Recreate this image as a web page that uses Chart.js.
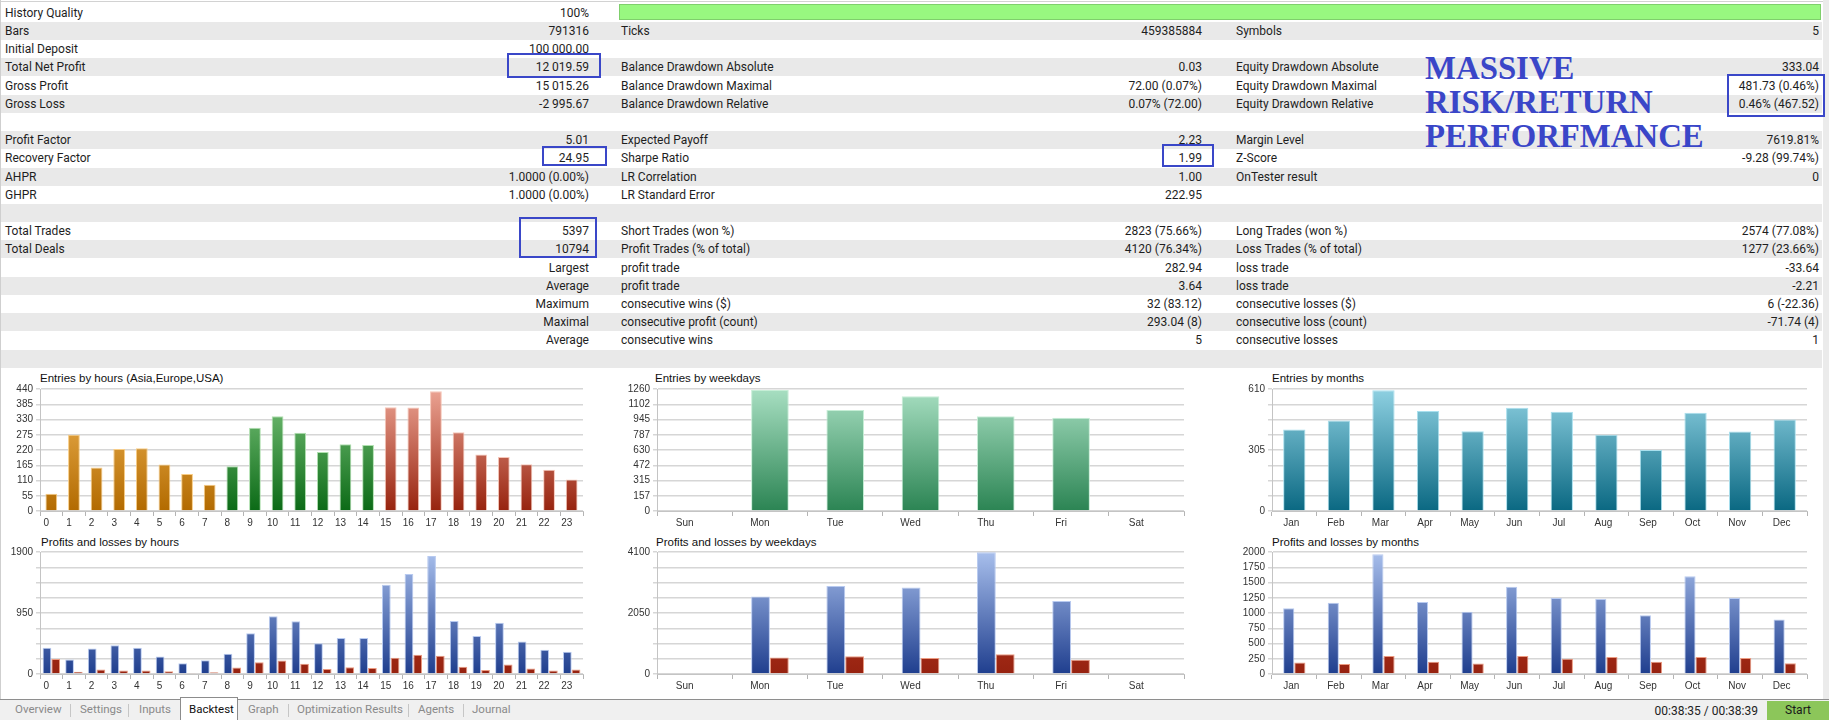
<!DOCTYPE html>
<html>
<head>
<meta charset="utf-8">
<script src="https://cdn.jsdelivr.net/npm/chart.js@4.4.1/dist/chart.umd.min.js"></script>
<style>
body{margin:0;width:1829px;height:720px;overflow:hidden;background:#fff;position:relative;font-family:Roboto,"Liberation Sans",sans-serif;}
.abs{position:absolute}
.row{position:absolute;left:1px;width:1821px;height:18.2px}
.row.gray{background:#e9e9e9}
.t{position:absolute;font-size:12px;color:#1e1e1e;line-height:18.2px;white-space:nowrap}
.r{text-align:right;width:300px}
.box{position:absolute;border:2px solid #3a47c8;box-sizing:border-box}
.title{position:absolute;font:11.5px "Liberation Sans",Arial,sans-serif;color:#111;line-height:14px;white-space:nowrap}
.tab{position:absolute;top:701px;font-size:11.5px;color:#8a8a8a;line-height:16px;white-space:nowrap}
.sep{position:absolute;top:704px;width:1px;height:13px;background:#c6c6c6}
canvas{position:absolute}
</style>
</head>
<body>
<script>
// ---- report table ----
const col1 = [
  ['History Quality', '100%'], ['Bars', '791316'], ['Initial Deposit', '100 000.00'],
  ['Total Net Profit', '12 019.59'], ['Gross Profit', '15 015.26'], ['Gross Loss', '-2 995.67'],
  ['', ''], ['Profit Factor', '5.01'], ['Recovery Factor', '24.95'],
  ['AHPR', '1.0000 (0.00%)'], ['GHPR', '1.0000 (0.00%)'], ['', ''],
  ['Total Trades', '5397'], ['Total Deals', '10794'], ['', 'Largest'],
  ['', 'Average'], ['', 'Maximum'], ['', 'Maximal'], ['', 'Average']
];
const col2 = [
  ['', ''], ['Ticks', '459385884'], ['', ''],
  ['Balance Drawdown Absolute', '0.03'], ['Balance Drawdown Maximal', '72.00 (0.07%)'], ['Balance Drawdown Relative', '0.07% (72.00)'],
  ['', ''], ['Expected Payoff', '2.23'], ['Sharpe Ratio', '1.99'],
  ['LR Correlation', '1.00'], ['LR Standard Error', '222.95'], ['', ''],
  ['Short Trades (won %)', '2823 (75.66%)'], ['Profit Trades (% of total)', '4120 (76.34%)'], ['profit trade', '282.94'],
  ['profit trade', '3.64'], ['consecutive wins ($)', '32 (83.12)'], ['consecutive profit (count)', '293.04 (8)'], ['consecutive wins', '5']
];
const col3 = [
  ['', ''], ['Symbols', '5'], ['', ''],
  ['Equity Drawdown Absolute', '333.04'], ['Equity Drawdown Maximal', '481.73 (0.46%)'], ['Equity Drawdown Relative', '0.46% (467.52)'],
  ['', ''], ['Margin Level', '7619.81%'], ['Z-Score', '-9.28 (99.74%)'],
  ['OnTester result', '0'], ['', ''], ['', ''],
  ['Long Trades (won %)', '2574 (77.08%)'], ['Loss Trades (% of total)', '1277 (23.66%)'], ['loss trade', '-33.64'],
  ['loss trade', '-2.21'], ['consecutive losses ($)', '6 (-22.36)'], ['consecutive loss (count)', '-71.74 (4)'], ['consecutive losses', '1']
];

// ---- chart data ----
const hourLabels = ['0','1','2','3','4','5','6','7','8','9','10','11','12','13','14','15','16','17','18','19','20','21','22','23'];
const hourSessions = ['asia','asia','asia','asia','asia','asia','asia','asia',
  'europe','europe','europe','europe','europe','europe','europe',
  'usa','usa','usa','usa','usa','usa','usa','usa','usa'];
const hourEntries = [62,275,157,224,226,168,133,95,161,300,342,282,213,241,238,374,373,432,284,204,195,169,149,114];
const hourProfits = [409,225,398,449,409,271,169,215,317,633,899,822,480,562,562,1389,1558,1839,827,592,797,506,378,347];
const hourLosses = [235,36,72,56,56,41,15,26,102,184,209,158,77,107,92,255,301,286,112,61,148,87,56,72];

const weekdayLabels = ['Sun','Mon','Tue','Wed','Thu','Fri','Sat'];
const weekdayEntries = [null,1250,1044,1184,979,962,null];
const weekdayProfits = [null,2608,2961,2906,4090,2453,null];
const weekdayLosses = [null,552,597,541,663,475,null];

const monthLabels = ['Jan','Feb','Mar','Apr','May','Jun','Jul','Aug','Sep','Oct','Nov','Dec'];
const monthEntries = [407,453,604,500,399,516,496,381,305,491,397,458];
const monthProfits = [1078,1170,1962,1181,1019,1429,1245,1229,965,1601,1245,895];
const monthLosses = [189,162,296,199,172,296,248,280,199,280,264,178];

const hourEntryTicks = ['0','55','110','165','220','275','330','385','440'];
const weekdayEntryTicks = ['0','157','315','472','630','787','945','1102','1260'];
const monthEntryTicks = ['0','','','','305','','','','610'];
const hourPLTicks = ['0','','','','950','','','','1900'];
const weekdayPLTicks = ['0','','','','2050','','','','4100'];
const monthPLTicks = ['0','250','500','750','1000','1250','1500','1750','2000'];

// ---- page chrome ----
function el(cls, css, text) {
  const d = document.createElement('div');
  d.className = cls;
  Object.assign(d.style, css);
  if (text !== undefined) d.textContent = text;
  document.body.appendChild(d);
  return d;
}

el('abs', {left:'0px', top:'1px', width:'1823px', height:'1px', background:'#d2d2d2'});
el('abs', {left:'0px', top:'0px', width:'1px', height:'699px', background:'#cfcfcf'});
el('abs', {left:'1823px', top:'0px', width:'6px', height:'699px', background:'#ebebeb'});

const ROW0 = 3.7, RH = 18.2;
for (let i = 0; i < 20; i++) {
  el(i % 2 ? 'row gray' : 'row', {top: (ROW0 + RH * i) + 'px'});
}
el('abs', {left:'619px', top:'4px', width:'1202px', height:'16px', background:'#98f880', border:'1px solid #7fcf6c', boxSizing:'border-box'});

function fillColumn(rows, labelX, valueRight) {
  rows.forEach((r, i) => {
    const top = (ROW0 + RH * i) + 'px';
    if (r[0]) el('t', {left: labelX + 'px', top}, r[0]);
    if (r[1]) el('t r', {left: (valueRight - 300) + 'px', top}, r[1]);
  });
}
fillColumn(col1, 5, 589);
fillColumn(col2, 621, 1202);
fillColumn(col3, 1236, 1819);

[[507,52.7,601,77.7],[542,145.7,607,165.7],[519,216.7,597,258.3],[1162,144.3,1214,167.3],[1727,74,1825,117.3]]
  .forEach(b => el('box', {left:b[0]+'px', top:b[1]+'px', width:(b[2]-b[0])+'px', height:(b[3]-b[1])+'px'}));

const promo = el('abs', {left:'1425px', top:'51px', font:'bold 32.8px "Liberation Serif","DejaVu Serif",serif',
  color:'#3a46c8', lineHeight:'34px', whiteSpace:'nowrap'});
promo.innerHTML = 'MASSIVE<br>RISK/RETURN<br>PERFORFMANCE';

// chart titles
el('title', {left:'40px', top:'371px'}, 'Entries by hours (Asia,Europe,USA)');
el('title', {left:'655px', top:'371px'}, 'Entries by weekdays');
el('title', {left:'1272px', top:'371px'}, 'Entries by months');
el('title', {left:'41px', top:'535px'}, 'Profits and losses by hours');
el('title', {left:'656px', top:'535px'}, 'Profits and losses by weekdays');
el('title', {left:'1272px', top:'535px'}, 'Profits and losses by months');

// tab bar
el('abs', {left:'0px', top:'699px', width:'1829px', height:'21px', background:'#f0f0f0'});
el('abs', {left:'0px', top:'699px', width:'1829px', height:'1px', background:'#8e8e8e'});
el('abs', {left:'180px', top:'697px', width:'58px', height:'23px', background:'#fff', border:'1px solid #8c8c8c', borderBottom:'none', boxSizing:'border-box'});
[['Overview',15],['Settings',80],['Inputs',139],['Graph',248],['Optimization Results',297],['Agents',418],['Journal',472]]
  .forEach(t => el('tab', {left: t[1] + 'px'}, t[0]));
el('tab', {left:'189px', color:'#111'}, 'Backtest');
[70,128,288,408,463].forEach(x => el('sep', {left: x + 'px'}));
el('abs', {left:'1458px', top:'703px', width:'300px', textAlign:'right', fontSize:'12px', color:'#222', lineHeight:'16px'}, '00:38:35 / 00:38:39');
el('abs', {left:'1767px', top:'701px', width:'62px', height:'19px', background:'#8cc65a', textAlign:'center', fontSize:'12px', color:'#1a1a1a', lineHeight:'19px'}, 'Start');

// ---- charts ----
const YW = 44, PT = 8, PR = 6, XH = 24;

function vGrad(chart, top, bottom) {
  const a = chart.chartArea;
  if (!a) return bottom;
  const g = chart.ctx.createLinearGradient(0, a.top, 0, a.bottom);
  g.addColorStop(0, top);
  g.addColorStop(1, bottom);
  return g;
}

const sessionColors = {
  asia:   {top:'#f2b757', bottom:'#b26a00', border:'#f8cc84'},
  europe: {top:'#7cc47c', bottom:'#0b6a16', border:'#b0e0b0'},
  usa:    {top:'#eca494', bottom:'#97230e', border:'#f6c6b8'}
};

const profitSet = data => ({
  data, borderWidth:1, borderColor:'#b8caf0',
  backgroundColor: c => vGrad(c.chart, '#a8bfec', '#1f3e8e')
});
const lossSet = data => ({
  data, borderWidth:1, borderColor:'#ec9a80',
  backgroundColor: c => vGrad(c.chart, '#c9472a', '#962210')
});

function makeChart(box, labels, datasets, yMax, yTicks, labelOffset) {
  const canvas = document.createElement('canvas');
  const w = box.r - box.l + YW + PR, h = box.b - box.t + PT + XH;
  canvas.width = w;
  canvas.height = h;
  canvas.style.left = (box.l - YW) + 'px';
  canvas.style.top = (box.t - PT) + 'px';
  document.body.appendChild(canvas);
  const tickFont = {family:'"Liberation Sans", Arial, sans-serif', size:10};
  return new Chart(canvas, {
    type: 'bar',
    data: {labels, datasets},
    options: {
      responsive: false,
      animation: false,
      layout: {padding: {top: PT, right: PR, left: 0, bottom: 0}},
      plugins: {legend: {display: false}, tooltip: {enabled: false}},
      scales: {
        x: {
          grid: {drawOnChartArea: false, color: '#b4b4b4', tickLength: 5, offset: true},
          border: {color: '#c4c4c4'},
          ticks: {font: tickFont, color: '#333', padding: 1, labelOffset, maxRotation: 0, autoSkip: false},
          afterFit(s) { s.height = XH; }
        },
        y: {
          min: 0, max: yMax,
          grid: {color: '#d6d6d6', lineWidth: 1.5, tickLength: 4},
          border: {color: '#c4c4c4'},
          ticks: {font: tickFont, color: '#333', padding: 3, callback: (v, i) => yTicks[i]},
          afterBuildTicks(s) { s.ticks = yTicks.map((_, i) => ({value: yMax * i / 8})); },
          afterFit(s) { s.width = YW; }
        }
      }
    }
  });
}

makeChart({l:40, t:387.7, r:583, b:511}, hourLabels, [{
  data: hourEntries, barPercentage: 0.52, categoryPercentage: 1, borderWidth: 1,
  borderColor: c => sessionColors[hourSessions[c.dataIndex]].border,
  backgroundColor: c => {
    const s = sessionColors[hourSessions[c.dataIndex]];
    return vGrad(c.chart, s.top, s.bottom);
  }
}], 440, hourEntryTicks, -5);

makeChart({l:656.5, t:387.7, r:1184, b:511}, weekdayLabels, [{
  data: weekdayEntries, barPercentage: 0.5, categoryPercentage: 1, borderWidth: 1,
  borderColor: '#c6eed6',
  backgroundColor: c => vGrad(c.chart, '#a8dfc2', '#2b8453')
}], 1260, weekdayEntryTicks, -10);

makeChart({l:1271.7, t:387.7, r:1807, b:511}, monthLabels, [{
  data: monthEntries, barPercentage: 0.5, categoryPercentage: 1, borderWidth: 1,
  borderColor: '#a9e0ee',
  backgroundColor: c => vGrad(c.chart, '#8fd1e2', '#0a6882')
}], 610, monthEntryTicks, -3);

makeChart({l:40, t:551.3, r:583, b:675}, hourLabels,
  [Object.assign(profitSet(hourProfits), {categoryPercentage: 0.77, barPercentage: 1}),
   Object.assign(lossSet(hourLosses), {categoryPercentage: 0.77, barPercentage: 1})],
  1900, hourPLTicks, -5);

makeChart({l:656.5, t:551.3, r:1184, b:675}, weekdayLabels,
  [Object.assign(profitSet(weekdayProfits), {categoryPercentage: 0.5, barPercentage: 1}),
   Object.assign(lossSet(weekdayLosses), {categoryPercentage: 0.5, barPercentage: 1})],
  4100, weekdayPLTicks, -10);

makeChart({l:1271.7, t:551.3, r:1807, b:675}, monthLabels,
  [Object.assign(profitSet(monthProfits), {categoryPercentage: 0.5, barPercentage: 1}),
   Object.assign(lossSet(monthLosses), {categoryPercentage: 0.5, barPercentage: 1})],
  2000, monthPLTicks, -3);
</script>
</body>
</html>
